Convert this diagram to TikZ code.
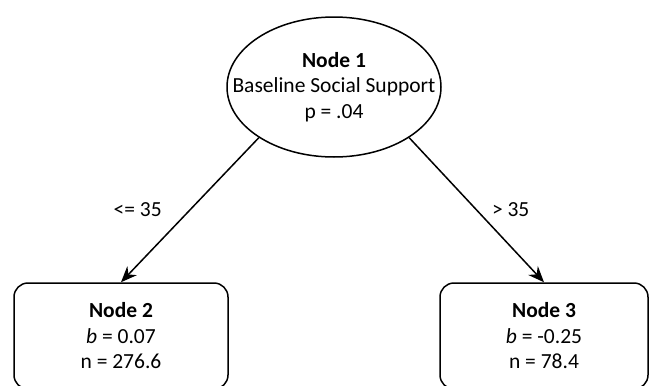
\documentclass[tikz,border=0pt]{standalone}
\usepackage{fontspec}
\setmainfont{Carlito}
\usetikzlibrary{arrows.meta,shapes.geometric}

\begin{document}
\begin{tikzpicture}[x=1pt,y=-1pt,
    every node/.style={font=\fontsize{21.5}{25.5}\selectfont,align=center},
    split/.style={draw,ellipse,line width=1.5pt,minimum width=214pt,minimum height=140pt,inner xsep=-30pt,inner ysep=0pt},
    leaf/.style={draw,rounded corners=14pt,line width=1.5pt,minimum width=214pt,minimum height=106pt},
    branch/.style={line width=1.5pt,-{Stealth[length=16pt,width=13pt]}},
    cut/.style={inner sep=0pt}]
    \clip (0,0) rectangle (649,386);
    \node[split] (node1) at (334,87) {\textbf{Node 1}\\Baseline Social Support\\p = .04};
    \node[leaf] (node2) at (121,336) {\textbf{Node 2}\\\textit{b} = 0.07\\n = 276.6};
    \node[leaf,minimum width=208pt] (node3) at (544,336) {\textbf{Node 3}\\\textit{b} = -0.25\\n = 78.4};
    \draw[branch] (node1.-146) -- (node2.north) node[cut,midway,left=27.5pt] {<= 35};
    \draw[branch] (node1.-34) -- (node3.north) node[cut,midway,right=14.7pt] {> 35};
\end{tikzpicture}
\end{document}
